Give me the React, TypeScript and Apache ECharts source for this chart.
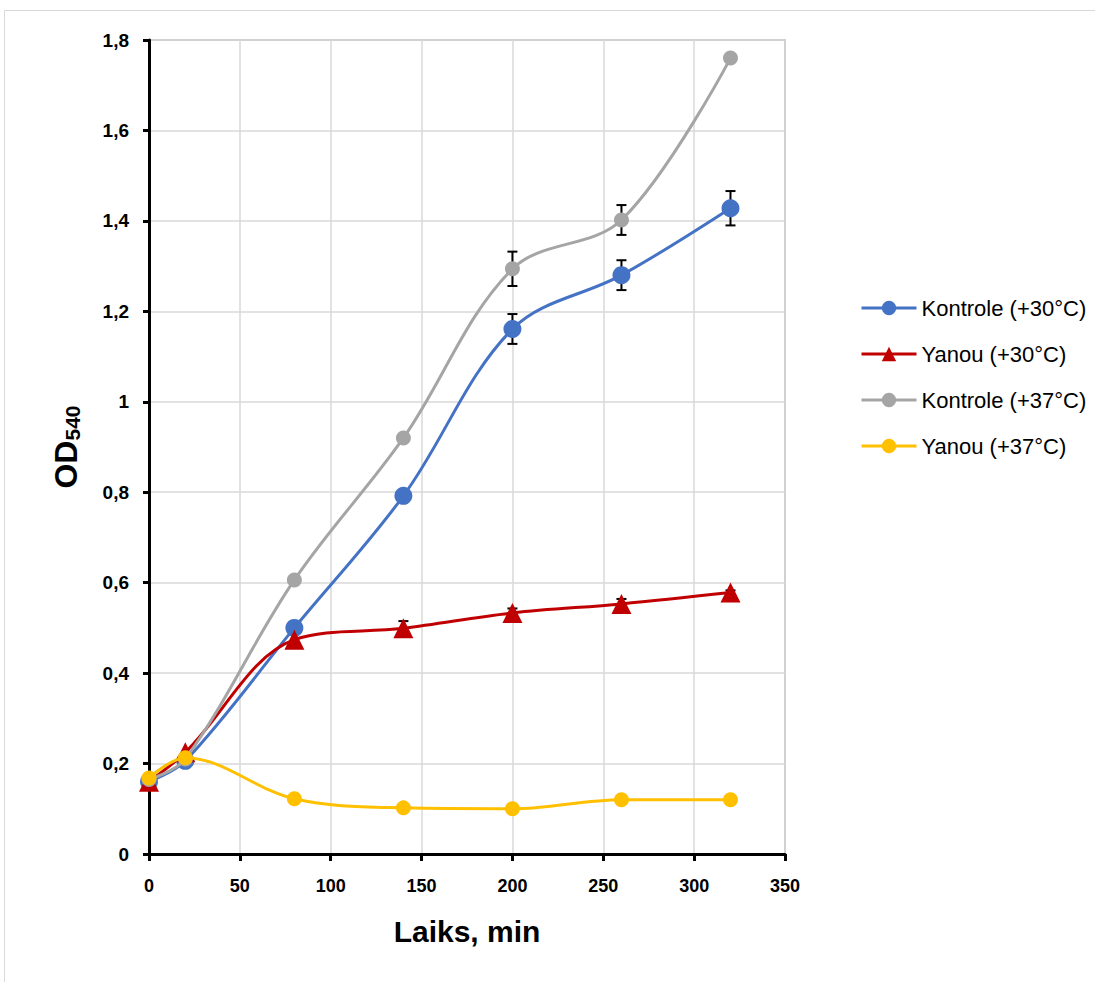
import React, { useEffect, useRef } from "react";
import * as echarts from "echarts";

const times = [0, 20, 80, 140, 200, 260, 320];
const seriesNames = ["Kontrole (+30°C)", "Yanou (+30°C)", "Kontrole (+37°C)", "Yanou (+37°C)"];
const kontrole30 = [0.16, 0.206, 0.5, 0.792, 1.161, 1.28, 1.428];
const yanou30 = [0.16, 0.225, 0.474, 0.499, 0.533, 0.553, 0.578];
const kontrole37 = [0.165, 0.21, 0.606, 0.92, 1.294, 1.402, 1.76];
const yanou37 = [0.168, 0.213, 0.122, 0.102, 0.1, 0.12, 0.12];
// error values (± SD); 0 = no bar
const kontrole30Err = [0, 0, 0, 0, 0.033, 0.033, 0.038];
const yanou30Err = [0, 0, 0, 0.016, 0.01, 0.011, 0.005];
const kontrole37Err = [0, 0, 0, 0, 0.038, 0.033, 0];
const yanou37Err = [0, 0, 0, 0, 0, 0, 0];
const colors = ["#4472C4", "#C00000", "#A5A5A5", "#FFC000"];
const symbols = ["circle", "triangle", "circle", "circle"];
const symbolSizes = [18, 20, 15, 15];

const FONT = "Liberation Sans";

export default function App() {
  const ref = useRef<HTMLDivElement>(null);
  useEffect(() => {
    if (!ref.current) return;
    const chart = echarts.init(ref.current, null, { renderer: "svg" });
    const values = [kontrole30, yanou30, kontrole37, yanou37];
    const errs = [kontrole30Err, yanou30Err, kontrole37Err, yanou37Err];

    const lineSeries = values.map((vals, i) => ({
      name: seriesNames[i],
      type: "line",
      data: times.map((t, j) => [t, vals[j]]),
      smooth: 0.35,
      symbol: symbols[i],
      symbolSize: symbolSizes[i],
      lineStyle: { color: colors[i], width: 3 },
      itemStyle: { color: colors[i] },
      z: 3 + i,
    }));

    const errSeries = errs.map((err, i) => ({
      name: "err" + i,
      type: "custom",
      data: times
        .map((t, j) => [t, values[i][j] - err[j], values[i][j] + err[j], err[j]])
        .filter((d) => d[3] > 0),
      z: 2,
      renderItem: (params: any, api: any) => {
        const x = api.value(0);
        const lo = api.coord([x, api.value(1)]);
        const hi = api.coord([x, api.value(2)]);
        const cap = 5;
        const st = { stroke: "#000", lineWidth: 2 };
        return {
          type: "group",
          children: [
            { type: "line", shape: { x1: lo[0], y1: lo[1], x2: hi[0], y2: hi[1] }, style: st },
            { type: "line", shape: { x1: lo[0] - cap, y1: lo[1], x2: lo[0] + cap, y2: lo[1] }, style: st },
            { type: "line", shape: { x1: hi[0] - cap, y1: hi[1], x2: hi[0] + cap, y2: hi[1] }, style: st },
          ],
        };
      },
    }));

    chart.setOption({
      animation: false,
      backgroundColor: "#fff",
      textStyle: { fontFamily: FONT },
      graphic: [
        {
          type: "rect",
          shape: { x: 4.5, y: 10.5, width: 2000, height: 2000 },
          style: { fill: "none", stroke: "#d9d9d9", lineWidth: 1 },
          silent: true,
        },
      ],
      grid: {
        left: 149,
        top: 40,
        right: 310,
        bottom: 128,
        show: true,
        borderColor: "#a6a6a6",
        borderWidth: 1.5,
      },
      legend: {
        data: seriesNames,
        orient: "vertical",
        left: 860,
        top: 297,
        padding: 0,
        itemWidth: 55,
        itemHeight: 18,
        itemGap: 24,
        lineStyle: { width: 3 },
        textStyle: { fontSize: 22, color: "#000", fontFamily: FONT },
      },
      xAxis: {
        type: "value",
        min: 0,
        max: 350,
        interval: 50,
        name: "Laiks, min",
        nameLocation: "middle",
        nameGap: 62,
        nameTextStyle: { fontSize: 30, fontWeight: "bold", color: "#000", fontFamily: FONT },
        axisLine: { show: true, lineStyle: { color: "#000", width: 3 } },
        axisTick: { show: true, length: 7, lineStyle: { color: "#000", width: 3 } },
        axisLabel: { fontSize: 18, fontWeight: "bold", color: "#000", margin: 23, fontFamily: FONT },
        splitLine: { show: true, lineStyle: { color: "#d9d9d9", width: 1.5 } },
      },
      yAxis: {
        type: "value",
        min: 0,
        max: 1.8,
        interval: 0.2,
        name: "OD{sub|540}",
        nameLocation: "middle",
        nameRotate: 90,
        nameGap: 66,
        nameTextStyle: {
          fontSize: 32,
          fontWeight: "bold",
          color: "#000",
          fontFamily: FONT,
          rich: {
            sub: { fontSize: 21, fontWeight: "bold", color: "#000", fontFamily: FONT, padding: [14, 0, 0, 0] },
          },
        },
        axisLine: { show: true, lineStyle: { color: "#000", width: 3 } },
        axisTick: { show: true, length: 6, lineStyle: { color: "#000", width: 3 } },
        axisLabel: {
          fontSize: 19,
          fontWeight: "bold",
          color: "#000",
          margin: 20,
          fontFamily: FONT,
          formatter: (v: number) => (v === 0 ? "0" : String(+v.toFixed(1)).replace(".", ",")),
        },
        splitLine: { show: true, lineStyle: { color: "#d9d9d9", width: 1.5 } },
      },
      series: [...lineSeries, ...errSeries],
    });
    return () => chart.dispose();
  }, []);
  return <div ref={ref} style={{ position: "fixed", left: 0, top: 0, width: 1095, height: 982 }} />;
}
